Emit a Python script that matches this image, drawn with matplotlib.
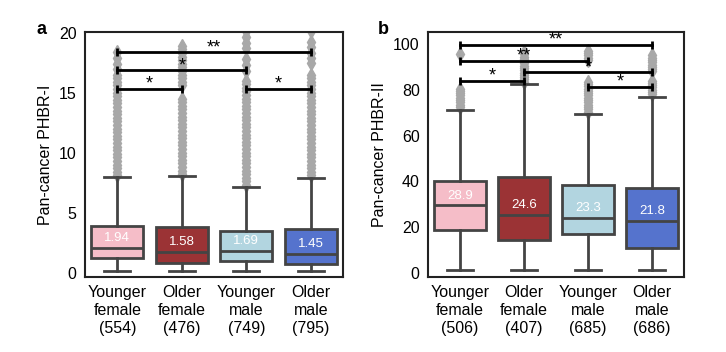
import matplotlib.pyplot as plt

plt.rcParams['font.family'] = ['Liberation Sans', 'DejaVu Sans']
plt.rcParams['font.size'] = 11.5

# box colours (desaturated pink / brown / lightblue / royalblue)
colors = ['#F5BDC8', '#9B3335', '#B2D5E0', '#5573CD']

# ---- panel a : PHBR-I ----
labels_a = ['Younger\nfemale\n(554)', 'Older\nfemale\n(476)', 'Younger\nmale\n(749)', 'Older\nmale\n(795)']
q1_a = [1.25, 0.84, 0.98, 0.70]
med_a = [2.06, 1.73, 1.84, 1.59]
q3_a = [3.90, 3.79, 3.51, 3.62]
whislo_a = [0.17, 0.17, 0.17, 0.17]
whishi_a = [7.94, 8.02, 7.10, 7.88]
means_a = ['1.94', '1.58', '1.69', '1.45']
fliers_a = [
    [8.1, 8.4, 8.7, 9.0, 9.3, 9.6, 9.9, 10.2, 10.5, 10.8, 11.1, 11.4, 11.7, 12.0, 12.3, 12.6,
     12.9, 13.2, 13.5, 13.8, 14.1, 14.4, 14.7, 15.0, 15.3, 15.6, 15.9, 16.2, 16.5, 17.0, 17.4,
     17.9, 18.4],
    [8.2, 8.5, 8.8, 9.1, 9.4, 9.7, 10.0, 10.3, 10.6, 10.9, 11.2, 11.5, 11.8, 12.1, 12.4, 12.7,
     13.0, 13.3, 13.6, 13.9, 14.2, 14.5, 15.6, 15.9, 16.2, 16.5, 16.8, 17.1, 17.4, 17.7, 18.0,
     18.3, 18.6, 18.9],
    [7.3, 7.6, 7.9, 8.2, 8.5, 8.8, 9.1, 9.4, 9.7, 10.0, 10.3, 10.6, 10.9, 11.2, 11.5, 11.8,
     12.1, 12.4, 12.7, 13.0, 13.3, 13.6, 13.9, 14.2, 14.5, 14.8, 15.1, 15.4, 15.7, 16.0, 16.8,
     17.3, 17.8, 18.7, 19.1, 19.6, 20.1],
    [8.1, 8.4, 8.7, 9.0, 9.3, 9.6, 9.9, 10.2, 10.5, 10.8, 11.1, 11.4, 11.7, 12.0, 12.3, 12.6,
     12.9, 13.2, 13.5, 13.8, 14.1, 14.4, 14.7, 15.0, 15.3, 15.6, 15.9, 16.2, 16.5, 17.5, 17.9,
     18.3, 18.8, 19.2, 20.1],
]
# significance brackets: (left box, right box, height, stars)
sig_a = [(0, 3, 18.38, '**'), (0, 2, 16.85, '*'), (0, 1, 15.32, '*'), (2, 3, 15.32, '*')]

# ---- panel b : PHBR-II ----
labels_b = ['Younger\nfemale\n(506)', 'Older\nfemale\n(407)', 'Younger\nmale\n(685)', 'Older\nmale\n(686)']
q1_b = [18.9, 14.3, 16.9, 10.8]
med_b = [29.6, 25.4, 24.0, 22.7]
q3_b = [40.4, 41.8, 38.4, 37.1]
whislo_b = [1.2, 1.2, 1.2, 1.2]
whishi_b = [71.2, 82.3, 69.5, 76.7]
means_b = ['28.9', '24.6', '23.3', '21.8']
fliers_b = [
    [72.5, 73.5, 74.5, 75.5, 76.5, 77.5, 78.5, 79.5, 80.5, 95.5],
    [83.5, 84.5, 85.5, 86.5, 87.5, 88.5, 89.5, 90.5, 91.5, 92.5, 93.5, 94.5, 95.5, 96.5],
    [70.5, 71.5, 72.5, 73.5, 74.5, 75.5, 76.5, 77.5, 78.5, 79.5, 80.5, 81.5, 82.5, 83.5,
     93.0, 94.0, 95.0, 96.0, 97.0],
    [78.0, 79.0, 80.0, 81.0, 82.0, 83.0, 84.0, 88.0, 89.0, 90.0, 91.0, 92.0, 93.0, 94.0, 95.0],
]
sig_b = [(0, 3, 99.7, '**'), (0, 2, 92.7, '**'), (1, 3, 87.6, '*'), (0, 1, 84.0, '*'), (2, 3, 81.4, '*')]

edge = '#444444'


def draw_panel(ax, labels, q1, med, q3, lo, hi, fliers, means, sig, ylim, yticks, ylabel):
    stats = []
    for i in range(len(labels)):
        stats.append(dict(med=med[i], q1=q1[i], q3=q3[i], whislo=lo[i], whishi=hi[i],
                          fliers=fliers[i], label=labels[i]))
    bp = ax.bxp(stats, positions=range(len(labels)), widths=0.8, patch_artist=True,
                showfliers=True,
                boxprops=dict(edgecolor=edge, linewidth=2),
                medianprops=dict(color=edge, linewidth=2),
                whiskerprops=dict(color=edge, linewidth=2),
                capprops=dict(color=edge, linewidth=2),
                flierprops=dict(marker='d', markersize=7, markerfacecolor='#A8A8A8',
                                markeredgecolor='#A8A8A8'))
    for patch, c in zip(bp['boxes'], colors):
        patch.set_facecolor(c)
    for f in bp['fliers']:
        f.set_zorder(1)

    # mean values written inside the boxes
    for i, m in enumerate(means):
        ax.annotate(m, (i, med[i]), xytext=(0, 7), textcoords='offset points',
                    ha='center', va='center', color='white', fontsize=9.5, zorder=5)

    # significance brackets
    for l, r, h, s in sig:
        ax.plot([l, r], [h, h], color='black', linewidth=2, zorder=4)
        ax.plot([l, r], [h, h], linestyle='none', marker='|', markersize=6,
                markeredgewidth=2, color='black', zorder=4)
        ax.text((l + r) / 2, h, s, ha='center', va='baseline', fontsize=13, zorder=5)

    ax.set_xlim(-0.5, len(labels) - 0.5)
    ax.set_ylim(*ylim)
    ax.set_yticks(yticks)
    ax.set_ylabel(ylabel)
    ax.set_xticks(range(len(labels)))
    ax.set_xticklabels(labels, linespacing=1.25)
    ax.tick_params(length=0, pad=6)
    for sp in ax.spines.values():
        sp.set_color('#222222')
        sp.set_linewidth(1.5)


fig = plt.figure(figsize=(7.26, 3.52), dpi=100)
ax1 = fig.add_axes([0.1171, 0.2131, 0.3554, 0.696])
ax2 = fig.add_axes([0.5895, 0.2131, 0.3526, 0.696])

draw_panel(ax1, labels_a, q1_a, med_a, q3_a, whislo_a, whishi_a, fliers_a, means_a, sig_a,
           (-0.36, 20.05), [0, 5, 10, 15, 20], 'Pan-cancer PHBR-I')
draw_panel(ax2, labels_b, q1_b, med_b, q3_b, whislo_b, whishi_b, fliers_b, means_b, sig_b,
           (-1.7, 105.2), [0, 20, 40, 60, 80, 100], 'Pan-cancer PHBR-II')

fig.text(0.0496, 0.903, 'a', fontsize=13, fontweight='bold')
fig.text(0.5207, 0.903, 'b', fontsize=13, fontweight='bold')

fig.savefig('out.png', dpi=100)
